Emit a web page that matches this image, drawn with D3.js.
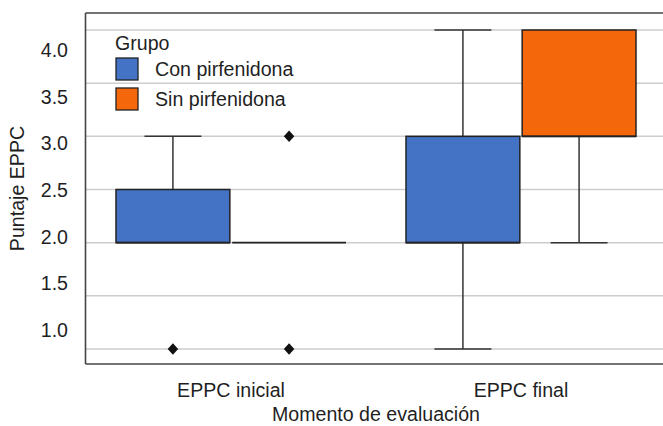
<!DOCTYPE html>
<html>
<head>
<meta charset="utf-8">
<script src="https://cdn.jsdelivr.net/npm/d3@7"></script>
<style>
  body { margin: 0; background: #fff; }
  svg { display: block; }
  text { font-family: "Liberation Sans", Arial, Helvetica, sans-serif; fill: #1f1f1f; }
</style>
</head>
<body>
<svg id="chart" width="663" height="426"></svg>
<script>
// Evaluation moments and treatment groups
const categories = ["EPPC inicial", "EPPC final"];
const groups = ["Con pirfenidona", "Sin pirfenidona"];
const groupColors = ["#4472c4", "#f5670b"];

// Box-plot summaries per group, one entry per evaluation moment
const conLow      = [2.0, 1.0];
const conQ1       = [2.0, 2.0];
const conMedian   = [2.0, 2.0];
const conQ3       = [2.5, 3.0];
const conHigh     = [3.0, 4.0];
const conOutliers = [[1.0], []];

const sinLow      = [2.0, 2.0];
const sinQ1       = [2.0, 3.0];
const sinMedian   = [2.0, 3.0];
const sinQ3       = [2.0, 4.0];
const sinHigh     = [2.0, 3.0];
const sinOutliers = [[3.0, 1.0], []];

// Y axis ticks
const yTicks = [1.0, 1.5, 2.0, 2.5, 3.0, 3.5, 4.0];
const yTickLabels = ["1.0", "1.5", "2.0", "2.5", "3.0", "3.5", "4.0"];

const svg = d3.select("#chart");
const fontSize = "19.6px";

const plot = { left: 86, right: 666, top: 13, bottom: 364 };

const x = d3.scaleBand().domain(categories).range([plot.left, plot.right]).padding(0);
const xg = d3.scaleBand().domain(groups).range([30, 260]).paddingInner(0.02);
const y = d3.scaleLinear().domain([1, 4]).range([349, 30]);
// tick labels sit on their own evenly spaced column
const yLabel = d3.scaleLinear().domain([1, 4]).range([330, 50]);

// Assemble the summaries into rows
const boxes = [];
categories.forEach((c, i) => {
  boxes.push({ cat: c, group: groups[0], color: groupColors[0], lo: conLow[i], q1: conQ1[i], med: conMedian[i], q3: conQ3[i], hi: conHigh[i], out: conOutliers[i] });
  boxes.push({ cat: c, group: groups[1], color: groupColors[1], lo: sinLow[i], q1: sinQ1[i], med: sinMedian[i], q3: sinQ3[i], hi: sinHigh[i], out: sinOutliers[i] });
});

// Gridlines
svg.append("g").selectAll("line").data(yTicks).join("line")
  .attr("x1", plot.left).attr("x2", 663)
  .attr("y1", d => y(d)).attr("y2", d => y(d))
  .attr("stroke", "#cdcdcd").attr("stroke-width", 1.5);

// Y tick labels
svg.append("g").selectAll("text").data(yTicks).join("text")
  .attr("x", 68).attr("y", d => yLabel(d))
  .attr("text-anchor", "end").attr("dominant-baseline", "central")
  .style("font-size", fontSize)
  .text((d, i) => yTickLabels[i]);

// Diamond marker for outliers
const diamond = {
  draw(ctx, size) {
    const r = Math.sqrt(size) / 2;
    ctx.moveTo(0, -r * 1.1);
    ctx.lineTo(r, 0);
    ctx.lineTo(0, r * 1.1);
    ctx.lineTo(-r, 0);
    ctx.closePath();
  }
};
const diamondPath = d3.symbol(diamond, 110)();

const stroke = "#333";
const bx = svg.append("g").selectAll("g").data(boxes).join("g")
  .attr("transform", d => `translate(${x(d.cat) + xg(d.group)},0)`);

const bw = xg.bandwidth();
const cx = bw / 2;
const capHalf = bw / 4;

bx.each(function(d) {
  const g = d3.select(this);
  // whiskers with caps
  if (d.hi > d.q3) {
    g.append("line").attr("x1", cx).attr("x2", cx).attr("y1", y(d.hi)).attr("y2", y(d.q3))
      .attr("stroke", stroke).attr("stroke-width", 1.5);
    g.append("line").attr("x1", cx - capHalf).attr("x2", cx + capHalf).attr("y1", y(d.hi)).attr("y2", y(d.hi))
      .attr("stroke", stroke).attr("stroke-width", 1.5);
  }
  if (d.lo < d.q1) {
    g.append("line").attr("x1", cx).attr("x2", cx).attr("y1", y(d.q1)).attr("y2", y(d.lo))
      .attr("stroke", stroke).attr("stroke-width", 1.5);
    g.append("line").attr("x1", cx - capHalf).attr("x2", cx + capHalf).attr("y1", y(d.lo)).attr("y2", y(d.lo))
      .attr("stroke", stroke).attr("stroke-width", 1.5);
  }
  // box
  if (d.q3 > d.q1) {
    g.append("rect").attr("x", 0).attr("width", bw)
      .attr("y", y(d.q3)).attr("height", y(d.q1) - y(d.q3))
      .attr("fill", d.color).attr("stroke", "#222").attr("stroke-width", 1.5);
  }
  // median
  g.append("line").attr("x1", 0).attr("x2", bw).attr("y1", y(d.med)).attr("y2", y(d.med))
    .attr("stroke", "#222").attr("stroke-width", 1.8);
  // outliers
  g.selectAll("path.out").data(d.out).join("path").attr("class", "out")
    .attr("d", diamondPath)
    .attr("transform", v => `translate(${cx},${y(v)})`)
    .attr("fill", "#111");
});

// Plot frame (left, top, bottom)
const frame = svg.append("g").attr("stroke", "#444").attr("stroke-width", 1.6).attr("fill", "none");
frame.append("line").attr("x1", 85.5).attr("x2", 85.5).attr("y1", plot.top).attr("y2", plot.bottom);
frame.append("line").attr("x1", 85.5).attr("x2", 663).attr("y1", plot.top).attr("y2", plot.top);
frame.append("line").attr("x1", 85.5).attr("x2", 663).attr("y1", plot.bottom).attr("y2", plot.bottom);

// X category labels
svg.append("g").selectAll("text").data(categories).join("text")
  .attr("x", d => x(d) + x.bandwidth() / 2).attr("y", 397)
  .attr("text-anchor", "middle").style("font-size", fontSize)
  .text(d => d);

// Axis titles
svg.append("text").attr("x", (plot.left + plot.right) / 2).attr("y", 421)
  .attr("text-anchor", "middle").style("font-size", fontSize)
  .text("Momento de evaluación");

svg.append("text").attr("transform", `translate(24,${(plot.top + plot.bottom) / 2}) rotate(-90)`)
  .attr("text-anchor", "middle").style("font-size", fontSize)
  .text("Puntaje EPPC");

// Legend
const legend = svg.append("g");
legend.append("text").attr("x", 115).attr("y", 50).style("font-size", fontSize).text("Grupo");
const items = legend.selectAll("g").data(groups).join("g")
  .attr("transform", (d, i) => `translate(116,${58 + i * 30})`);
items.append("rect").attr("width", 22).attr("height", 22)
  .attr("fill", (d, i) => groupColors[i]).attr("stroke", "#222").attr("stroke-width", 1.3);
items.append("text").attr("x", 39).attr("y", 11).attr("dominant-baseline", "central")
  .style("font-size", fontSize).text(d => d);
</script>
</body>
</html>
